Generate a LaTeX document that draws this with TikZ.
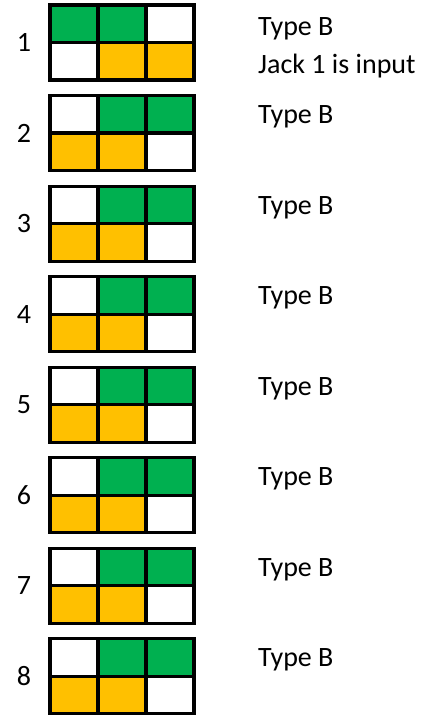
\documentclass[tikz,border=0pt]{standalone}
\usepackage{fontspec}
\setmainfont{Carlito}
\definecolor{cgreen}{HTML}{00B050}
\definecolor{cyellow}{HTML}{FFC000}
\begin{document}
\begin{tikzpicture}[x=1pt,y=-1pt,
  gridline/.style={line width=3.2pt,black},
  numlabel/.style={font=\fontsize{28}{32}\selectfont,anchor=center,inner sep=0pt},
  typelabel/.style={font=\fontsize{28}{32}\selectfont,anchor=base west,inner sep=0pt}]
\useasboundingbox (0,0) rectangle (433,715);
% box 1
\def\T{5}
\fill[cgreen] (50,\T) rectangle (146,\T+37.5);
\fill[cyellow] (98,\T+37.5) rectangle (194,\T+75);
\draw[gridline] (50,\T) rectangle (194,\T+75);
\draw[gridline] (98,\T) -- (98,\T+75) (146,\T) -- (146,\T+75) (50,\T+37.5) -- (194,\T+37.5);
\node[numlabel] (n1) at (24,\T+37) {1};
\node[typelabel] (t1) at (258,\T+30) {Type B};
\node[typelabel] (j1) at (258,\T+68) {Jack 1 is input};
% boxes 2-8
\foreach \i in {2,...,8}{
  \pgfmathsetmacro{\T}{5+(\i-1)*90.55}
  \fill[cgreen] (98,\T) rectangle (194,\T+37.5);
  \fill[cyellow] (50,\T+37.5) rectangle (146,\T+75);
  \draw[gridline] (50,\T) rectangle (194,\T+75);
  \draw[gridline] (98,\T) -- (98,\T+75) (146,\T) -- (146,\T+75) (50,\T+37.5) -- (194,\T+37.5);
  \node[numlabel] (n\i) at (24,\T+37.5) {\i};
  \node[typelabel] (t\i) at (258,\T+28) {Type B};
}
\end{tikzpicture}
\end{document}
